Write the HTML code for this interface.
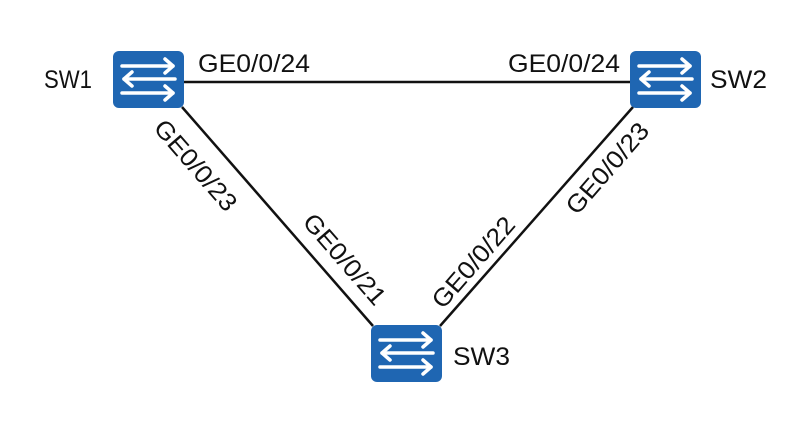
<!DOCTYPE html>
<html><head><style>
html,body{margin:0;padding:0;background:#fff;}
svg{display:block;}
text{font-family:"Liberation Sans",sans-serif;font-size:25px;fill:#111;}
</style></head><body>
<svg width="796" height="424" viewBox="0 0 796 424">
<defs>
<g id="sw">
<rect x="0" y="0" width="71" height="57" rx="6" fill="#1f66b2"/>
<g stroke="#fff" stroke-width="3.5" fill="none" stroke-linecap="round" stroke-linejoin="round">
<line x1="9" y1="15" x2="60" y2="15"/><polyline points="52,8 60,15 52,22"/>
<line x1="11" y1="28" x2="62" y2="28"/><polyline points="19,21 11,28 19,35"/>
<line x1="9" y1="42" x2="60" y2="42"/><polyline points="52,35 60,42 52,49"/>
</g>
</g>
</defs>
<g stroke="#111" stroke-width="2.5">
<line x1="183" y1="82" x2="630" y2="82"/>
<line x1="182" y1="107" x2="373" y2="326"/>
<line x1="440" y1="326" x2="633" y2="107"/>
</g>
<use href="#sw" x="113" y="51"/>
<use href="#sw" x="630" y="51"/>
<use href="#sw" x="371" y="325"/>
<text x="44" y="88" font-size="23" textLength="48" lengthAdjust="spacingAndGlyphs">SW1</text>
<text x="710" y="88" font-size="23" textLength="57" lengthAdjust="spacingAndGlyphs">SW2</text>
<text x="453" y="365" font-size="23" textLength="57" lengthAdjust="spacingAndGlyphs">SW3</text>
<text x="198" y="72" textLength="112" lengthAdjust="spacingAndGlyphs">GE0/0/24</text>
<text x="508" y="72" textLength="112" lengthAdjust="spacingAndGlyphs">GE0/0/24</text>
<text transform="translate(196,165) rotate(49)" x="-56" dy="9" textLength="112" lengthAdjust="spacingAndGlyphs">GE0/0/23</text>
<text transform="translate(345,259) rotate(49)" x="-56" dy="9" textLength="112" lengthAdjust="spacingAndGlyphs">GE0/0/21</text>
<text transform="translate(473,262) rotate(-49)" x="-56" dy="9" textLength="112" lengthAdjust="spacingAndGlyphs">GE0/0/22</text>
<text transform="translate(607,168) rotate(-49)" x="-56" dy="9" textLength="112" lengthAdjust="spacingAndGlyphs">GE0/0/23</text>
</svg>
</body></html>
